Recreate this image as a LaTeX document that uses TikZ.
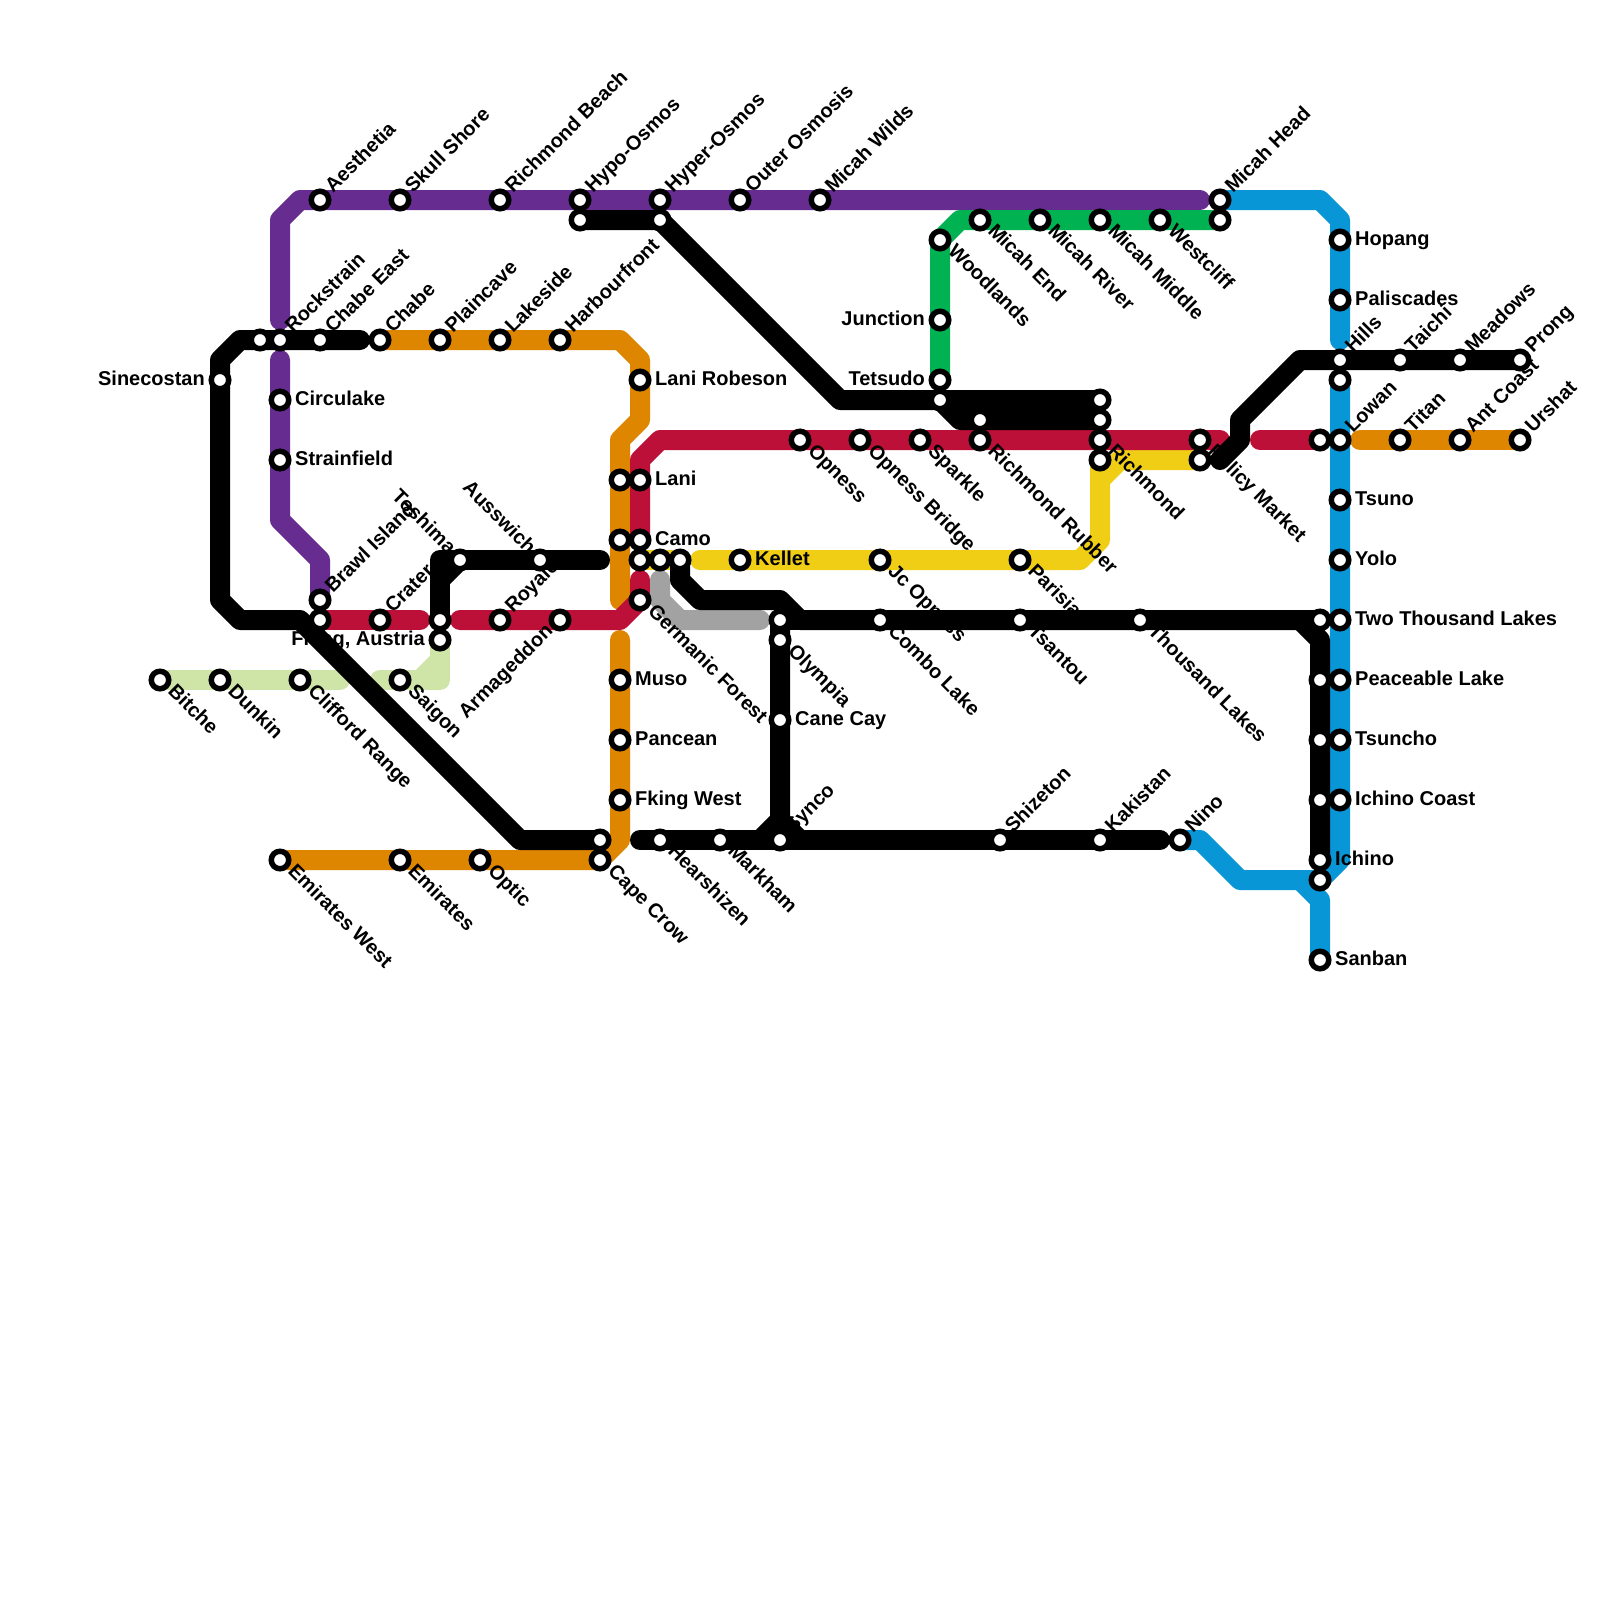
\documentclass[tikz,border=0pt]{standalone}
\usepackage{fontspec}
\setmainfont{Liberation Sans}
\pgfdeclarelayer{colourlines}
\pgfdeclarelayer{texts}
\pgfdeclarelayer{blacklines}
\pgfsetlayers{colourlines,texts,blacklines,main}
\definecolor{cpurple}{HTML}{662C90}
\definecolor{corange}{HTML}{DF8600}
\definecolor{cred}{HTML}{BD1038}
\definecolor{cyellow}{HTML}{F0CE15}
\definecolor{cgreen}{HTML}{00B251}
\definecolor{cblue}{HTML}{0896D7}
\definecolor{clime}{HTML}{CFE4A7}
\definecolor{cgrey}{HTML}{A2A2A2}
\tikzset{
  route/.style={draw=#1,line width=20pt,line cap=round,line join=round},
  ring/.style={circle,draw=black,fill=white,line width=5.5pt,minimum size=17.5pt,inner sep=0pt},
  lbl/.style={inner sep=0pt,text=black,font=\fontsize{20pt}{21pt}\selectfont\bfseries},
  lblR/.style={lbl,xshift=15pt,yshift=-5.2pt,anchor=base west},
  lblL/.style={lbl,xshift=-15pt,yshift=-5.2pt,anchor=base east},
  lblUR/.style={lbl,xshift=13pt,yshift=6pt,rotate=45,anchor=base west},
  lblDR/.style={lbl,xshift=7pt,yshift=-12pt,rotate=-45,anchor=base west},
  lblUL/.style={lbl,xshift=-12pt,yshift=5pt,rotate=-45,anchor=base east},
  lblDL/.style={lbl,xshift=-6pt,yshift=-12pt,rotate=45,anchor=base east},
}
\newcommand{\stn}[5]{%
  \node[ring] (#1) at (#2,#3) {};
  \begin{pgfonlayer}{texts}\node[lbl#4] (#1-label) at (#1.center) {#5};\end{pgfonlayer}}
\newcommand{\halt}[3]{\node[ring] (#1) at (#2,#3) {};}
\begin{document}
\begin{tikzpicture}[x=1pt,y=-1pt]
\useasboundingbox (0,0) rectangle (1600,1600);
% stations
\stn{aesthetia}{320}{200}{UR}{Aesthetia}
\stn{skull}{400}{200}{UR}{Skull Shore}
\stn{richbeach}{500}{200}{UR}{Richmond Beach}
\stn{hypo}{580}{200}{UR}{Hypo-Osmos}
\stn{hyper}{660}{200}{UR}{Hyper-Osmos}
\stn{outer}{740}{200}{UR}{Outer Osmosis}
\stn{wilds}{820}{200}{UR}{Micah Wilds}
\stn{micahhead}{1220}{200}{UR}{Micah Head}
\halt{hypolow}{580}{220}
\halt{hyperlow}{660}{220}
\stn{woodlands}{940}{240}{DR}{Woodlands}
\stn{junction}{940}{320}{L}{Junction}
\stn{tetsudo}{940}{380}{L}{Tetsudo}
\halt{tetlow}{940}{400}
\stn{micahend}{980}{220}{DR}{Micah End}
\stn{micahriver}{1040}{220}{DR}{Micah River}
\stn{micahmiddle}{1100}{220}{DR}{Micah Middle}
\stn{westcliff}{1160}{220}{DR}{Westcliff}
\halt{greenend}{1220}{220}
\stn{hopang}{1340}{240}{R}{Hopang}
\stn{paliscades}{1340}{300}{R}{Paliscades}
\stn{hills}{1340}{360}{UR}{Hills}
\halt{hillslow}{1340}{380}
\stn{taichi}{1400}{360}{UR}{Taichi}
\stn{meadows}{1460}{360}{UR}{Meadows}
\stn{prong}{1520}{360}{UR}{Prong}
\stn{lowan}{1340}{440}{UR}{Lowan}
\halt{lowanw}{1320}{440}
\stn{titan}{1400}{440}{UR}{Titan}
\stn{antcoast}{1460}{440}{UR}{Ant Coast}
\stn{urshat}{1520}{440}{UR}{Urshat}
\stn{tsuno}{1340}{500}{R}{Tsuno}
\stn{yolo}{1340}{560}{R}{Yolo}
\stn{twothousand}{1340}{620}{R}{Two Thousand Lakes}
\stn{peaceable}{1340}{680}{R}{Peaceable Lake}
\stn{tsuncho}{1340}{740}{R}{Tsuncho}
\stn{ichinocoast}{1340}{800}{R}{Ichino Coast}
\halt{twow}{1320}{620}
\halt{peacew}{1320}{680}
\halt{tsunw}{1320}{740}
\halt{coastw}{1320}{800}
\stn{ichino}{1320}{860}{R}{Ichino}
\halt{ichlow}{1320}{880}
\stn{sanban}{1320}{960}{R}{Sanban}
\stn{nino}{1180}{840}{UR}{Nino}
\stn{kakistan}{1100}{840}{UR}{Kakistan}
\stn{shizeton}{1000}{840}{UR}{Shizeton}
\stn{synco}{780}{840}{UR}{Synco}
\stn{markham}{720}{840}{DR}{Markham}
\stn{hearshizen}{660}{840}{DR}{Hearshizen}
\halt{capeup}{600}{840}
\stn{capecrow}{600}{860}{DR}{Cape Crow}
\stn{optic}{480}{860}{DR}{Optic}
\stn{emirates}{400}{860}{DR}{Emirates}
\stn{emiwest}{280}{860}{DR}{Emirates West}
\stn{fkingwest}{620}{800}{R}{Fking West}
\stn{pancean}{620}{740}{R}{Pancean}
\stn{muso}{620}{680}{R}{Muso}
\stn{canecay}{780}{720}{R}{Cane Cay}
\stn{olympia}{780}{640}{DR}{Olympia}
\halt{olyup}{780}{620}
\stn{combo}{880}{620}{DR}{Combo Lake}
\stn{tsantou}{1020}{620}{DR}{Tsantou}
\stn{thousand}{1140}{620}{DR}{Thousand Lakes}
\stn{kellet}{740}{560}{R}{Kellet}
\stn{jcopness}{880}{560}{DR}{Jc Opness}
\stn{parisian}{1020}{560}{DR}{Parisian}
\stn{opness}{800}{440}{DR}{Opness}
\stn{opbridge}{860}{440}{DR}{Opness Bridge}
\stn{sparkle}{920}{440}{DR}{Sparkle}
\stn{richrubber}{980}{440}{DR}{Richmond Rubber}
\halt{rubberup}{980}{420}
\stn{richmond}{1100}{440}{DR}{Richmond}
\halt{richlow}{1100}{460}
\halt{richup}{1100}{420}
\halt{richtop}{1100}{400}
\stn{policy}{1200}{440}{DR}{Policy Market}
\halt{policylow}{1200}{460}
\stn{sinecostan}{220}{380}{L}{Sinecostan}
\halt{rockw}{260}{340}
\stn{rockstrain}{280}{340}{UR}{Rockstrain}
\stn{chabeeast}{320}{340}{UR}{Chabe East}
\stn{chabe}{380}{340}{UR}{Chabe}
\stn{plaincave}{440}{340}{UR}{Plaincave}
\stn{lakeside}{500}{340}{UR}{Lakeside}
\stn{harbour}{560}{340}{UR}{Harbourfront}
\stn{circulake}{280}{400}{R}{Circulake}
\stn{strainfield}{280}{460}{R}{Strainfield}
\stn{lanirob}{640}{380}{R}{Lani Robeson}
\stn{lani}{640}{480}{R}{Lani}
\halt{laniw}{620}{480}
\stn{camo}{640}{540}{R}{Camo}
\halt{camow}{620}{540}
\halt{yelA}{640}{560}
\halt{yelB}{660}{560}
\halt{yelC}{680}{560}
\stn{germanic}{640}{600}{DR}{Germanic Forest}
\stn{brawl}{320}{600}{UR}{Brawl Island}
\halt{brawllow}{320}{620}
\stn{crater}{380}{620}{UR}{Crater}
\halt{cratere}{440}{620}
\stn{fking}{440}{640}{L}{Fking, Austria}
\stn{toshima}{460}{560}{UL}{Toshima}
\stn{ausswich}{540}{560}{UL}{Ausswich}
\stn{royal}{500}{620}{UR}{Royale}
\stn{armageddon}{560}{620}{DL}{Armageddon}
\stn{bitche}{160}{680}{DR}{Bitche}
\stn{dunkin}{220}{680}{DR}{Dunkin}
\stn{clifford}{300}{680}{DR}{Clifford Range}
\stn{saigon}{400}{680}{DR}{Saigon}
% free ends
\coordinate (limeendA) at (340,680);
\coordinate (limestartB) at (380,680);
\coordinate (purpleA) at (280,320);
\coordinate (purpleEnd) at (1200,200);
\coordinate (purpleB) at (280,360);
\coordinate (orangeEnd) at (620,600);
\coordinate (orangeStart) at (620,640);
\coordinate (orangeE) at (1360,440);
\coordinate (redA) at (420,620);
\coordinate (redB) at (460,620);
\coordinate (redC) at (640,580);
\coordinate (redD) at (1220,440);
\coordinate (redE) at (1260,440);
\coordinate (yellowA) at (700,560);
\coordinate (greyA) at (660,580);
\coordinate (greyB) at (760,620);
\coordinate (blueEnd) at (1340,340);
\coordinate (blackA) at (360,340);
\coordinate (blackB) at (600,560);
\coordinate (blackC) at (640,840);
\coordinate (blackD) at (1160,840);
\coordinate (blackE) at (1220,460);
% coloured lines
\begin{pgfonlayer}{colourlines}
\fill[white] (0,0) rectangle (1600,1600);
\draw[route=clime] (bitche.center) -- (limeendA);
\draw[route=clime] (limestartB) -- (440,680) -- (fking.center);
\draw[draw=clime,line width=20pt] (420,680) -- (440,660);
\draw[route=corange] (chabe.center) -- (620,340) -- (640,360) -- (640,420) -- (620,440) -- (orangeEnd);
\draw[route=corange] (orangeStart) -- (620,840) -- (600,860) -- (emiwest.center);
\draw[route=corange] (orangeE) -- (urshat.center);
\draw[route=cpurple] (purpleA) -- (280,220) -- (300,200) -- (purpleEnd);
\draw[route=cpurple] (purpleB) -- (280,520) -- (320,560) -- (brawl.center);
\draw[route=cyellow] (yelA.center) -- (yelC.center);
\draw[route=cyellow] (yellowA) -- (1080,560) -- (1100,540) -- (richlow.center);
\draw[route=cyellow] (1100,480) -- (1120,460) -- (policylow.center);
\draw[route=cred] (brawllow.center) -- (redA);
\draw[route=cred] (redB) -- (620,620) -- (germanic.center) -- (redC);
\draw[route=cred] (camo.center) -- (640,460) -- (660,440) -- (redD);
\draw[route=cred] (redE) -- (lowanw.center);
\draw[route=cgreen] (tetsudo.center) -- (940,240) -- (960,220) -- (greenend.center);
\draw[route=cblue] (micahhead.center) -- (1320,200) -- (1340,220) -- (blueEnd);
\draw[route=cblue] (hillslow.center) -- (1340,860) -- (ichlow.center);
\draw[route=cblue] (nino.center) -- (1200,840) -- (1240,880) -- (ichlow.center);
\draw[route=cblue] (1300,880) -- (1320,900) -- (sanban.center);
\draw[route=cgrey] (greyA) -- (660,600) -- (680,620) -- (greyB);
\end{pgfonlayer}
% black lines
\begin{pgfonlayer}{blacklines}
\draw[route=black] (blackA) -- (240,340) -- (220,360) -- (220,600) -- (240,620) -- (300,620) -- (520,840) -- (capeup.center);
\draw[route=black] (blackB) -- (440,560) -- (cratere.center);
\draw[route=black] (440,580) -- (toshima.center);
\draw[route=black] (hypolow.center) -- (660,220) -- (840,400) -- (richtop.center);
\draw[route=black] (tetlow.center) -- (960,420) -- (richup.center);
\draw[route=black] (yelC.center) -- (680,580) -- (700,600) -- (780,600) -- (800,620) -- (twow.center);
\draw[route=black] (olyup.center) -- (800,620);
\draw[route=black] (1300,620) -- (1320,640) -- (ichino.center);
\draw[route=black] (olyup.center) -- (780,820) -- (760,840);
\draw[route=black] (780,820) -- (800,840);
\draw[route=black] (blackC) -- (blackD);
\draw[route=black] (blackE) -- (1240,440) -- (1240,420) -- (1300,360) -- (prong.center);
\end{pgfonlayer}
\end{tikzpicture}
\end{document}
